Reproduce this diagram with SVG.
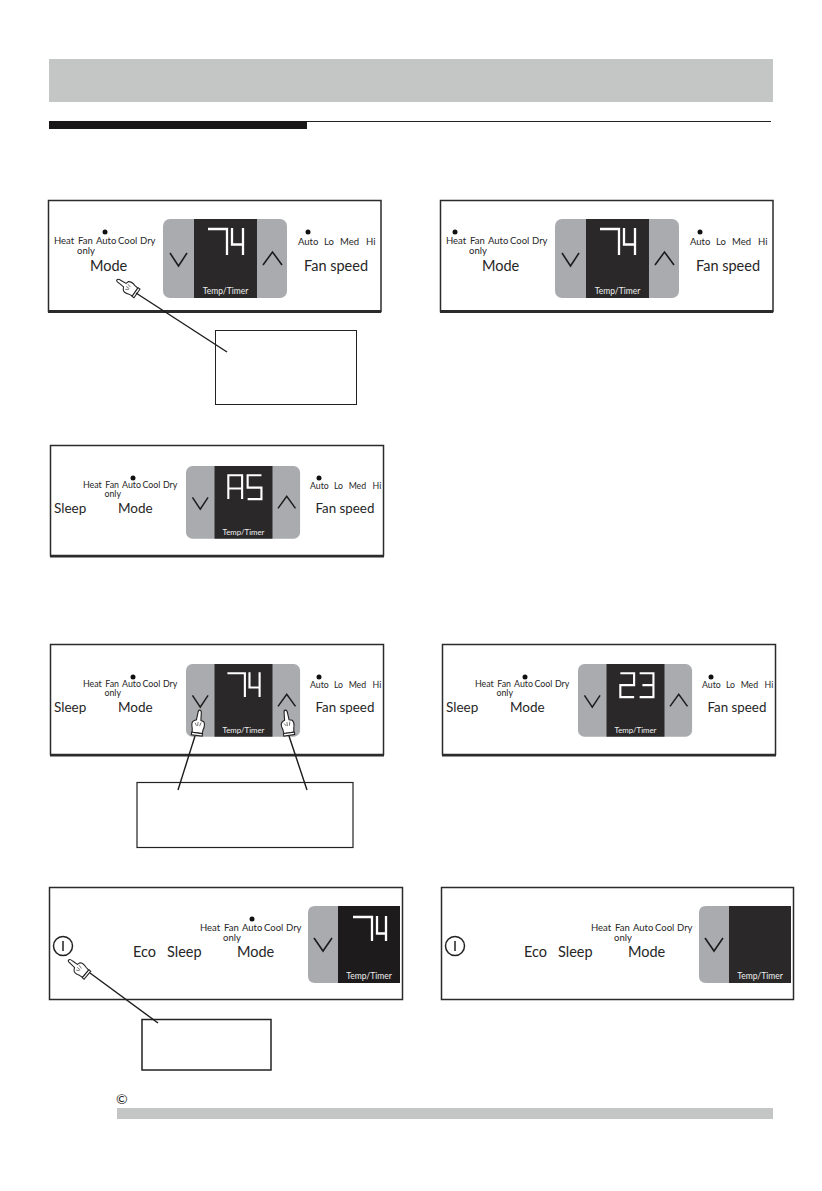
<svg xmlns="http://www.w3.org/2000/svg" width="822" height="1191" viewBox="0 0 822 1191">
<style>
text{font-family:"Lato","Liberation Sans",sans-serif;fill:#262626}
.s{font-size:9.5px}
.m{font-size:14.500px}
.n{font-size:13.500px}
.f{fill:none;stroke:#2b2b2b;stroke-width:1.5}
.b{fill:#2b2b2b}
.c{fill:none;stroke:#1c1c1c;stroke-width:1.4}
.w{fill:#fff;stroke:#222;stroke-width:1.1}
.seg{fill:none;stroke:#fff;stroke-width:2.300}
.chev{fill:none;stroke:#1c1c1c;stroke-width:1.600}
.tt{font-size:8.5px;fill:#eee}
.dot{fill:#111}
</style>
<defs>
<g id="disp">
<rect x="0" y="0" width="124" height="79" rx="7" fill="#a9abae"/>
<rect x="31" y="0" width="63" height="79" fill="#2a2829"/>
<path class="chev" d="M7 34 L15.500 47 L24 34"/>
<path class="chev" d="M100 46 L109.500 33 L119 46"/>
<text class="tt" x="62.500" y="75" text-anchor="middle">Temp/Timer</text>
</g>
<g id="d74">
<path class="seg" d="M45 10 H64 V36"/>
<path class="seg" d="M69 9 V25.500 H80 M80 9 V36"/>
</g>
<g id="hand">
<path class="w" d="M0 -13 C1.500 -13 2 -11 2 -9 L2.500 -3 L5.500 -2 C7 0 7 3 6 6 L5.500 10 L-4.500 10 L-5 6 C-6.500 2 -6 -1 -4 -2 L-2 -3 L-1.500 -10 C-1.500 -12 -1 -13 0 -13 Z"/>
<path class="w" d="M-5 10 H6 V12.500 H-5 Z"/>
<path fill="none" stroke="#444" stroke-width=".7" d="M-3 0 L-1 3 M0 -1 V3 M3 -1 L2 3"/>
</g>
<g id="modes">
<text class="s" x="0" y="0">Heat</text>
<text class="s" x="24" y="0">Fan</text>
<text class="s" x="23" y="10">only</text>
<text class="s" x="42" y="0">Auto</text>
<text class="s" x="64" y="0">Cool</text>
<text class="s" x="86" y="0">Dry</text>
</g>
<g id="fans">
<text class="s" x="0" y="0">Auto</text>
<text class="s" x="26" y="0">Lo</text>
<text class="s" x="42" y="0">Med</text>
<text class="s" x="68" y="0">Hi</text>
<text class="m" x="6" y="26">Fan speed</text>
</g>
<g id="power">
<circle cx="0" cy="0" r="9.500" fill="none" stroke="#222" stroke-width="1.500"/>
<path d="M0 -5 V5" stroke="#222" stroke-width="1.500"/>
</g>
</defs>

<g id="header">
<rect x="49" y="59" width="724" height="43" fill="#c4c6c6"/>
<rect x="49" y="121" width="258" height="8" fill="#1a1718"/>
<rect x="307" y="121" width="464" height="1" fill="#222"/>
</g>

<g id="panel-1">
<rect class="f" x="48.500" y="200.500" width="332.500" height="111"/>
<rect class="b" x="48" y="310" width="333" height="3"/>
<use href="#modes" x="54" y="244"/>
<circle class="dot" cx="105" cy="232" r="2.500"/>
<text class="m" x="90" y="271">Mode</text>
<use href="#disp" x="163" y="219"/>
<use href="#d74" x="163" y="219"/>
<use href="#fans" x="298" y="245"/>
<circle class="dot" cx="308" cy="232" r="2.500"/>
<use href="#hand" transform="translate(127 287) rotate(-55) scale(.95)"/>
</g>

<g id="panel-2">
<rect class="f" x="440.500" y="200.500" width="332.500" height="111"/>
<rect class="b" x="440" y="310" width="333" height="3"/>
<use href="#modes" x="446" y="244"/>
<circle class="dot" cx="455" cy="232" r="2.500"/>
<text class="m" x="482" y="271">Mode</text>
<use href="#disp" x="555" y="219"/>
<use href="#d74" x="555" y="219"/>
<use href="#fans" x="690" y="245"/>
<circle class="dot" cx="700" cy="232" r="2.500"/>
</g>

<g id="panel-3">
<rect class="f" x="50.500" y="445.500" width="333" height="110"/>
<rect class="b" x="50" y="555" width="334" height="2.500"/>
<use href="#modes" transform="translate(83 488) scale(.93)"/>
<circle class="dot" cx="133" cy="478" r="2.500"/>
<text class="n" x="54" y="513">Sleep</text>
<text class="n" x="118" y="513">Mode</text>
<g transform="translate(186 466) scale(.92)">
<use href="#disp"/>
<path class="seg" d="M46 36 V10 H61 V36 M46 24.500 H61"/>
<path class="seg" d="M82 10 H67 V23.500 H82 V36 H67"/>
</g>
<use href="#fans" transform="translate(310 489) scale(.92)"/>
<circle class="dot" cx="319" cy="478" r="2.500"/>
</g>

<g id="panel-4">
<rect class="f" x="50.500" y="644.500" width="333" height="110"/>
<rect class="b" x="50" y="754" width="334" height="2.500"/>
<use href="#modes" transform="translate(83 687) scale(.93)"/>
<circle class="dot" cx="133" cy="677" r="2.500"/>
<text class="n" x="54" y="712">Sleep</text>
<text class="n" x="118" y="712">Mode</text>
<g transform="translate(186 664) scale(.92)">
<use href="#disp"/>
<use href="#d74"/>
</g>
<use href="#fans" transform="translate(310 688) scale(.92)"/>
<circle class="dot" cx="319" cy="677" r="2.500"/>
<use href="#hand" transform="translate(198 723) rotate(8)"/>
<use href="#hand" transform="translate(287 723) rotate(-8)"/>
</g>

<g id="panel-5">
<rect class="f" x="442.500" y="644.500" width="333" height="110"/>
<rect class="b" x="442" y="754" width="334" height="2.500"/>
<use href="#modes" transform="translate(475 687) scale(.93)"/>
<circle class="dot" cx="525" cy="677" r="2.500"/>
<text class="n" x="446" y="712">Sleep</text>
<text class="n" x="510" y="712">Mode</text>
<g transform="translate(578 664) scale(.92)">
<use href="#disp"/>
<path class="seg" d="M46 10 H61 V23 H46 V36 H61"/>
<path class="seg" d="M67 10 H82 V36 H67 M70 23 H82"/>
</g>
<use href="#fans" transform="translate(702 688) scale(.92)"/>
<circle class="dot" cx="711" cy="677" r="2.500"/>
</g>

<g id="panel-6">
<rect class="f" x="49.500" y="887.500" width="353" height="112"/>
<use href="#power" x="63" y="946"/>
<text class="m" x="133" y="957">Eco</text>
<text class="m" x="167" y="957">Sleep</text>
<text class="m" x="237" y="957">Mode</text>
<use href="#modes" x="200" y="931"/>
<circle class="dot" cx="252" cy="919" r="2.500"/>
<path d="M315 906 H338 V983 H315 Q308 983 308 976 V913 Q308 906 315 906 Z" fill="#a9abae"/>
<rect x="338" y="906" width="62" height="77" fill="#1d1b1c"/>
<path class="chev" d="M314 938 L323 951 L332 938"/>
<path class="seg" d="M353 917 H372 V941"/>
<path class="seg" d="M377 916 V933.500 H386 M386 916 V941"/>
<text class="tt" x="369" y="979" text-anchor="middle">Temp/Timer</text>
<use href="#hand" transform="translate(78 968) rotate(-50) scale(.95)"/>
</g>

<g id="panel-7">
<rect class="f" x="441.500" y="887.500" width="352" height="112"/>
<use href="#power" x="455" y="946"/>
<text class="m" x="524" y="957">Eco</text>
<text class="m" x="558" y="957">Sleep</text>
<text class="m" x="628" y="957">Mode</text>
<use href="#modes" x="591" y="931"/>
<path d="M706 906 H729 V983 H706 Q699 983 699 976 V913 Q699 906 706 906 Z" fill="#a9abae"/>
<rect x="729" y="906" width="62" height="77" fill="#2a2829"/>
<path class="chev" d="M705 938 L714 951 L723 938"/>
<text class="tt" x="760" y="979" text-anchor="middle">Temp/Timer</text>
</g>

<g id="callout-1"><rect x="215.500" y="330.500" width="141" height="74" fill="#fff" stroke="#222" stroke-width="1"/></g>
<g id="callout-2"><rect x="137" y="782.500" width="216" height="65" fill="#fff" stroke="#222" stroke-width="1.200"/></g>
<g id="callout-3"><rect x="142" y="1019.500" width="129" height="50.500" fill="#fff" stroke="#222" stroke-width="1.500"/></g>

<g id="connectors">
<path class="c" d="M136 293 L227 352"/>
<path class="c" d="M195 736 L178 790"/>
<path class="c" d="M289 736 L307 790"/>
<path class="c" d="M90 973 L158 1023"/>
</g>

<g id="footer">
<text x="116" y="1104" style="font-size:14px">©</text>
<rect x="117" y="1108" width="656" height="11" fill="#c4c6c6"/>
</g>
</svg>
